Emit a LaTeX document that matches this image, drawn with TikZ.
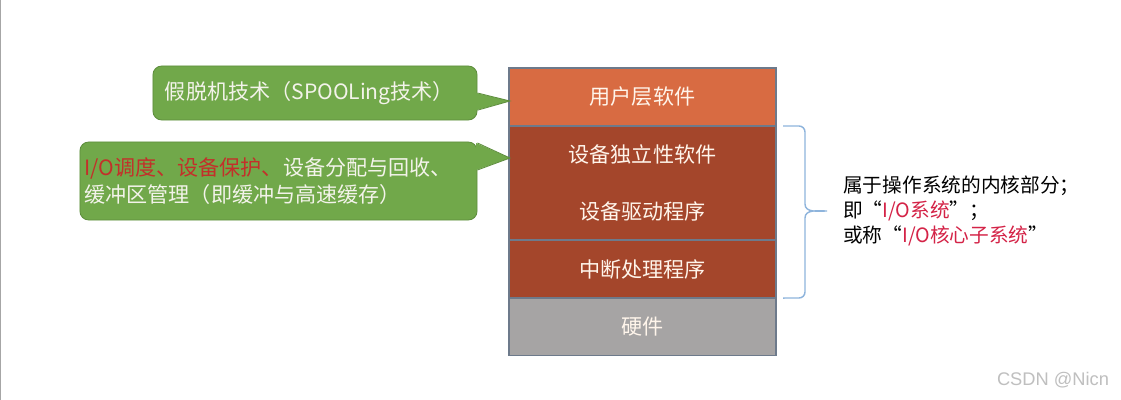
\documentclass[tikz,border=0pt]{standalone}
\usepackage{fontspec}
\setmainfont{Noto Sans CJK SC}
\newfontfamily\markfont{Liberation Sans}
\usepackage{tikz}
\usetikzlibrary{positioning,calc}
\definecolor{userorange}{HTML}{D86B42}
\definecolor{kernbrown}{HTML}{A4462B}
\definecolor{hwgray}{HTML}{A6A4A4}
\definecolor{layerline}{HTML}{6D7A8B}
\definecolor{bubblegreen}{HTML}{71A84A}
\definecolor{bubbleline}{HTML}{5E8E3D}
\definecolor{bubbletext}{HTML}{F3F3EA}
\definecolor{hotred}{HTML}{C3302A}
\definecolor{iored}{HTML}{D42347}
\definecolor{bracelight}{HTML}{8EB4DC}

\begin{document}
\begin{tikzpicture}[x=0.025cm, y=-0.025cm,
  layer/.style={draw=layerline, line width=0.8pt, outer sep=0pt, minimum width=6.675cm,
                minimum height=1.45cm, align=center, text=white!92!orange,
                font=\fontsize{15}{18}\selectfont},
  bubble/.style={draw=bubbleline, line width=0.6pt, fill=bubblegreen, rounded corners=0.22cm,
                 text=bubbletext, align=left, font=\fontsize{15}{19}\selectfont},
  bracepath/.style={draw=bracelight, line width=1pt}]
\fill[white] (0,0) rectangle (1121,400);
\useasboundingbox (0,0) rectangle (1121,400);
\draw[gray!70, line width=1pt] (0.5,0) -- (0.5,400);
% layer stack
\node[layer, fill=userorange] (user) at (642.5,97) {用户层软件};
\node[layer, fill=kernbrown, minimum height=2.85cm, below=0pt of user] (kern)
  {设备独立性软件\\[23pt]设备驱动程序};
\node[layer, fill=kernbrown, below=0pt of kern] (irq) {中断处理程序};
\node[layer, fill=hwgray, minimum height=1.425cm, below=0pt of irq] (hw) {硬件};
% callouts
\node[bubble, minimum width=8.1cm, minimum height=1.35cm, text width=7.5cm,
      inner xsep=0.3cm] (spool) at (315,93) {假脱机技术（SPOOLing技术）};
\node[bubble, minimum width=9.925cm, minimum height=1.95cm, text width=9.7cm,
      inner xsep=0.1cm] (mgmt) at (278.5,181)
  {\textcolor{hotred}{I/O调度、设备保护、}设备分配与回收、\\缓冲区管理（即缓冲与高速缓存）};
\coordinate (spooltip) at ($(user.west)+(1,4)$);
\coordinate (mgmttip) at ($(kern.north west)+(1,32)$);
\fill[bubblegreen] ([xshift=-1pt]spool.east) -- (spooltip)
  -- ([xshift=-1pt,yshift=-0.43cm]spool.east) -- cycle;
\draw[bubbleline, line width=0.6pt] (spool.east) -- (spooltip) -- ([yshift=-0.43cm]spool.east);
\fill[bubblegreen] ([xshift=-1pt,yshift=0.95cm]mgmt.east) -- (mgmttip)
  -- ([xshift=-1pt,yshift=0.275cm]mgmt.east) -- cycle;
\draw[bubbleline, line width=0.6pt] ([yshift=0.95cm]mgmt.east) -- (mgmttip)
  -- ([yshift=0.275cm]mgmt.east);
% brace over the kernel part
\coordinate (bracetop) at ($(kern.north east)+(7,0)$);
\coordinate (bracebot) at ($(irq.south east)+(7,0)$);
\coordinate (bracetip) at (827,211);
\draw[bracepath] (bracetop) -- (799,126) to[out=0,in=90] (805,132) -- (805,204)
  to[out=-90,in=180] (bracetip) to[out=180,in=90] (805,218) -- (805,292)
  to[out=-90,in=0] (799,298) -- (bracebot);
\node[right=0.4cm of bracetip, align=left, inner sep=0pt,
      font=\fontsize{14}{18}\selectfont] (note)
  {属于操作系统的内核部分；\\即“\textcolor{iored}{I/O系统}”；\\或称“\textcolor{iored}{I/O核心子系统}”};
\node[font=\markfont\fontsize{13}{15}\selectfont, text=gray!50] (mark) at (1053,380) {CSDN @Nicn};
\end{tikzpicture}
\end{document}
